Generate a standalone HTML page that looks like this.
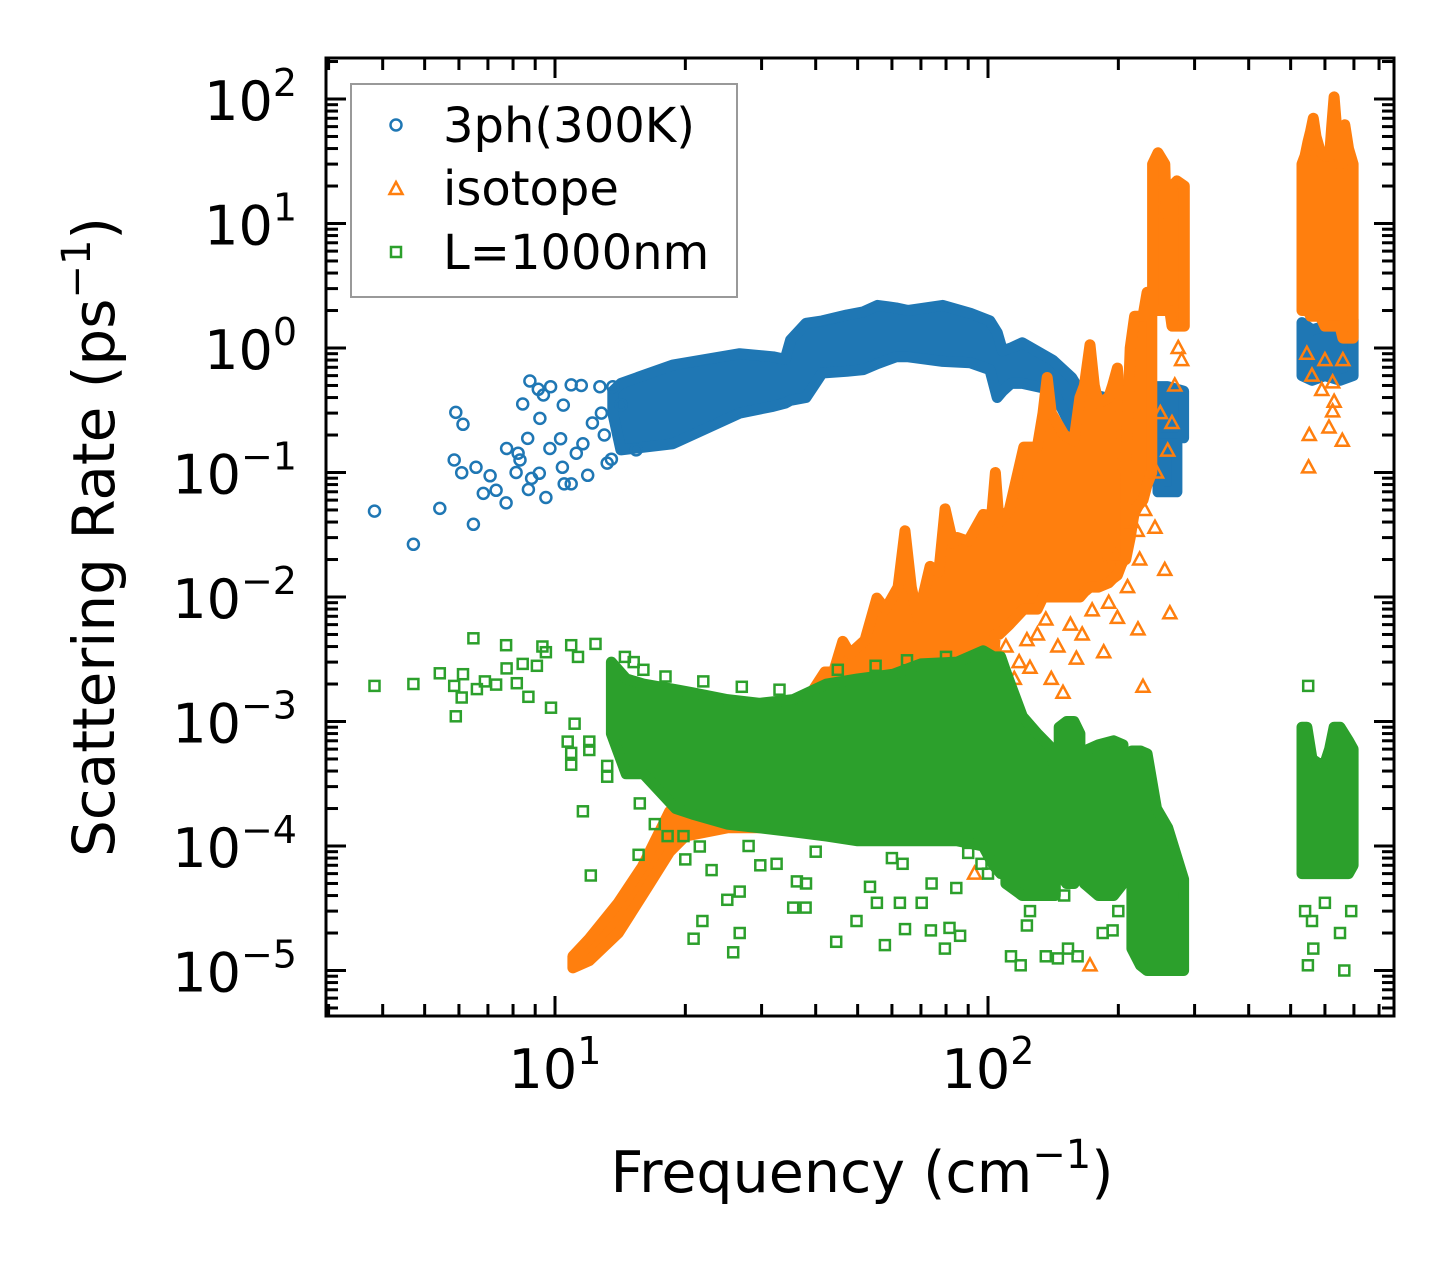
<!DOCTYPE html>
<html><head><meta charset="utf-8"><style>
html,body{margin:0;padding:0;background:#fff;}
svg{display:block;font-family:"DejaVu Sans","Liberation Sans",sans-serif;}
</style></head><body>
<svg id="chart" width="1455" height="1265" viewBox="0 0 1455 1265" xmlns="http://www.w3.org/2000/svg">
<defs><clipPath id="plotclip"><rect x="326" y="58" width="1068" height="958"/></clipPath></defs>
<rect x="0" y="0" width="1455" height="1265" fill="#fff"/>
<g id="series" clip-path="url(#plotclip)"></g>
<g id="axes"></g>
<g id="legend">
  <rect x="351" y="84" width="386" height="213" fill="#fff" stroke="#999" stroke-width="2"/>
  <g>
    <circle cx="396" cy="125" r="5.5" fill="none" stroke="#1f77b4" stroke-width="2.5"/>
    <text x="443" y="142" font-size="48" fill="#000">3ph(300K)</text>
  </g>
  <g>
    <polygon points="396,182 402.5,194 389.5,194" fill="none" stroke="#ff7f0e" stroke-width="2.5"/>
    <text x="443" y="205" font-size="48" fill="#000">isotope</text>
  </g>
  <g>
    <rect x="391" y="247" width="10" height="10" fill="none" stroke="#2ca02c" stroke-width="2.5"/>
    <text x="443" y="269" font-size="48" fill="#000">L=1000nm</text>
  </g>
</g>
<text x="862" y="1192" font-size="57" text-anchor="middle" fill="#000">Frequency (cm<tspan font-size="40" dy="-24">−1</tspan><tspan dy="24">)</tspan></text>
<text transform="translate(114,537) rotate(-90)" x="0" y="0" font-size="58" text-anchor="middle" fill="#000">Scattering Rate (ps<tspan font-size="40" dy="-24">−1</tspan><tspan dy="24">)</tspan></text>
</svg>
<script>
// ---- data (frequency cm^-1, rate ps^-1) ----
const blueSparseF = [3.83,4.71,5.42,5.90,6.13,5.85,6.09,6.48,6.57,6.83,7.08,7.31,7.71,7.73,8.22,8.30,8.13,8.42,8.75,9.23,8.65,8.83,8.68,9.53,9.20,9.15,9.77,9.40,10.4,10.5,10.9,10.9,11.5,11.9,9.73,10.3,10.45,11.2,11.6,12.7,13.6,13.2,13.5,15.4,12.2,12.8,13.0,14.2];
const blueSparseR = [0.049,0.0265,0.0515,0.304,0.244,0.126,0.0997,0.0384,0.110,0.068,0.094,0.072,0.057,0.156,0.143,0.126,0.10,0.355,0.543,0.272,0.188,0.0897,0.073,0.063,0.0986,0.466,0.489,0.419,0.110,0.081,0.081,0.505,0.50,0.095,0.156,0.187,0.348,0.143,0.17,0.489,0.489,0.119,0.128,0.152,0.25,0.3,0.2,0.35];
const blueBandF  = [13.6,14.2,18.7,26.7,31.9,34.0,35.0,38.0,41.4,47.2,51.5,55.6,61.3,65.4,78.6,91,101,105,108,113,120,141,156,163,176,186,205];
const blueBandHi = [0.45,0.52,0.73,0.9,0.85,0.81,1.16,1.58,1.65,1.84,1.95,2.2,2.1,2.0,2.2,1.9,1.65,1.33,0.95,1.0,1.1,0.8,0.58,0.45,0.42,0.4,0.35];
const blueBandLo = [0.3,0.152,0.17,0.30,0.34,0.36,0.38,0.40,0.63,0.65,0.67,0.75,0.85,0.85,0.78,0.76,0.67,0.4,0.45,0.52,0.52,0.46,0.23,0.22,0.25,0.2,0.16];
const blueB2F = [213,225,240], blueB2Hi = [0.23,0.2,0.2], blueB2Lo = [0.1,0.1,0.1];
const blueB3F = [243,260,283], blueB3Hi = [0.49,0.49,0.45], blueB3Lo = [0.19,0.19,0.19];
const blueB4F = [247,260,273], blueB4Hi = [0.17,0.17,0.17], blueB4Lo = [0.07,0.07,0.07];
const blueB5F = [531,560,600,650,697], blueB5Hi = [1.6,1.4,1.5,1.8,1.7], blueB5Lo = [0.6,0.55,0.6,0.55,0.6];

const orangeAF  = [11,12,14,15.9,18.4,20,25,30,38.2,42,44,46.2,48,52,55.4,58,62,64.3,66.5,68.9,73.5,77,79.6,83,85,90,97.5,102,104,106,112,121,130,134,137,140,150,158,163,167,172,176,180,190,194,199,203,206];
const orangeAHi = [1.3e-5,1.8e-5,3.5e-5,6.8e-5,1.9e-4,2.3e-4,3.5e-4,6e-4,1.5e-3,2.5e-3,2.5e-3,4.4e-3,3.5e-3,4.5e-3,9.8e-3,8e-3,1.2e-2,3.4e-2,1.2e-2,6.8e-3,1.76e-2,1.6e-2,5.1e-2,2.7e-2,3e-2,2.8e-2,4.6e-2,4.5e-2,0.1,0.04,0.05,0.16,0.16,0.3,0.58,0.3,0.2,0.18,0.4,0.5,1.06,0.5,0.36,0.4,0.5,0.69,0.3,0.07];
const orangeALo = [1.05e-5,1.2e-5,2e-5,4e-5,9e-5,1.2e-4,1.4e-4,1.4e-4,1.5e-4,1.5e-4,1.5e-4,1.5e-4,1.5e-4,1.5e-4,1.5e-4,1.5e-4,1.5e-4,1.5e-4,1.5e-4,1.5e-4,1.5e-4,1.5e-4,1.5e-4,1.5e-4,1.5e-4,1.5e-4,1.5e-4,2e-3,5e-3,5e-3,6e-3,8e-3,8e-3,1e-2,1e-2,1e-2,1e-2,1e-2,1e-2,1.1e-2,1.2e-2,1.2e-2,1.2e-2,1.3e-2,1.4e-2,1.5e-2,1.8e-2,2e-2];
const orangeBF = [208,213,218,228,233,239], orangeBHi = [0.1,1.0,1.8,1.8,2.8,2.8], orangeBLo = [0.02,0.03,0.05,0.06,0.08,0.1];
const orangeCF = [240,247,256,258,263,266,273,284], orangeCHi = [30,37,30,12,14,20,22,20], orangeCLo = [2,2,2,2,2,1.5,1.5,1.5];
const orangeDF  = [531,540,548,556,564,572,585,600,615,622,630,638,650,660,667,680,697];
const orangeDHi = [30,35,45,55,70,50,38,35,35,60,104,60,30,50,62,40,30];
const orangeDLo = [2,2,2,1.8,1.8,1.8,1.8,1.5,1.5,1.5,1.5,1.5,1.5,1.2,1.2,1.2,1.2];
const orangeSparseF = [552,613,658,550,625,590,625,630,560,600,660,545,221,243,256,224,174,185,197,263,228,160,149,125,185,222,199,136,123,174,172,68.6,93.1,250,270,280,260,230,215,245,275,266,110,118,130,145,155,165,190,210,115,140];
const orangeSparseR = [0.2,0.23,0.18,0.11,0.31,0.46,0.53,0.37,0.6,0.8,0.8,0.9,0.034,0.036,0.0165,0.02,0.018,0.018,0.021,7.4e-3,1.9e-3,3.2e-3,1.7e-3,2.7e-3,3.6e-3,5.5e-3,6.8e-3,6.6e-3,4.5e-3,7.8e-3,1.1e-5,1.6e-4,6e-5,0.3,0.5,0.8,0.15,0.05,0.04,0.1,1.0,0.25,4e-3,3e-3,5e-3,4e-3,6e-3,5e-3,9e-3,1.2e-2,2.2e-3,2.2e-3];

const greenAF  = [13.5,14.6,16,19,20.8,25,29.7,35.5,42.4,50,60.5,70,85,97.5,103,107,110];
const greenAHi = [3e-3,2.2e-3,2e-3,1.8e-3,1.7e-3,1.5e-3,1.4e-3,1.5e-3,2e-3,2.2e-3,2.4e-3,2.9e-3,3e-3,3.7e-3,3.3e-3,3.3e-3,2.5e-3];
const greenALo = [8e-4,3.8e-4,3.8e-4,2e-4,1.8e-4,1.5e-4,1.4e-4,1.3e-4,1.2e-4,1.1e-4,1.1e-4,1.1e-4,1.1e-4,1e-4,7e-5,6e-5,6e-5];
const greenBF = [110,120,130,139,143], greenBHi = [2.5e-3,1.1e-3,8e-4,6.3e-4,4e-4], greenBLo = [5e-5,4e-5,4e-5,4e-5,4e-5];
const greenCF = [146,152,158,163], greenCHi = [9e-4,1e-3,1e-3,8e-4], greenCLo = [6e-5,5e-5,5e-5,6e-5];
const greenDF = [167,180,195,205], greenDHi = [5.8e-4,6.5e-4,7e-4,6.5e-4], greenDLo = [5e-5,4e-5,4e-5,5e-5];
const greenEF = [215,225,233,245,260,283], greenEHi = [5.8e-4,5.8e-4,5.5e-4,2e-4,1.4e-4,5.4e-5], greenELo = [1.5e-5,1.1e-5,1e-5,1e-5,1e-5,1e-5];
const greenFF = [531,545,560,580,600,615,630,650,680,697], greenFHi = [9e-4,9e-4,5e-4,4.6e-4,4.6e-4,6e-4,9e-4,9e-4,7e-4,6e-4], greenFLo = [6e-5,6e-5,6e-5,6e-5,6e-5,6e-5,6e-5,6e-5,6e-5,7e-5];
const greenSparseF = [3.83,4.71,5.42,5.90,5.85,6.13,6.09,6.48,6.60,6.89,7.31,7.71,7.73,8.16,8.42,8.68,9.35,9.53,9.79,10.9,12.4,11.3,10.7,10.9,12.0,13.2,15.7,11.1,9.08,15.6,12.1,11.6,10.9,13.2,12.0,21.9,20.9,26.7,25.8,25.0,26.7,23.0,35.5,37.9,38,36.2,49.7,44.6,57.8,55.4,64.3,73.8,81.5,86.2,79.5,70.3,62.6,74.1,84.5,53.4,63.5,32.5,29.8,90.0,96.6,18.2,19.8,20.0,21.6,549,548,665,564,113,119,136,153,145,161,194,184,123,540,560,600,650,690,230,250,270,16,18,22,27,33,45,55,65,80,17,28,40,60,100,125,150,200,14.5,15.2,47,52,58];
const greenSparseR = [1.93e-3,2.0e-3,2.44e-3,1.1e-3,1.93e-3,2.4e-3,1.56e-3,4.66e-3,1.82e-3,2.1e-3,1.98e-3,4.1e-3,2.67e-3,2.03e-3,2.9e-3,1.58e-3,4e-3,3.6e-3,1.29e-3,4.1e-3,4.2e-3,3.3e-3,6.9e-4,4.5e-4,5.9e-4,3.6e-4,2.2e-4,9.6e-4,2.8e-3,8.5e-5,5.8e-5,1.9e-4,5.6e-4,4.4e-4,6.9e-4,2.5e-5,1.8e-5,2e-5,1.4e-5,3.7e-5,4.3e-5,6.4e-5,3.2e-5,3.2e-5,5e-5,5.2e-5,2.5e-5,1.7e-5,1.6e-5,3.5e-5,2.15e-5,2.1e-5,2.2e-5,1.9e-5,1.5e-5,3.5e-5,3.5e-5,5e-5,4.6e-5,4.7e-5,7.2e-5,7.2e-5,7e-5,8.8e-5,7.2e-5,1.2e-4,1.2e-4,7.8e-5,9.9e-5,1.93e-3,1.1e-5,1e-5,1.5e-5,1.3e-5,1.1e-5,1.3e-5,1.5e-5,1.25e-5,1.3e-5,2.1e-5,2e-5,2.3e-5,3e-5,2.5e-5,3.5e-5,2e-5,3e-5,2e-5,3e-5,4e-5,2.6e-3,2.3e-3,2.1e-3,1.9e-3,1.8e-3,2.6e-3,2.8e-3,3.1e-3,3.3e-3,1.5e-4,1e-4,9e-5,8e-5,6e-5,3e-5,4e-5,3e-5,3.3e-3,3e-3,1.3e-3,1.2e-3,1.3e-3];

const xMajorTicks = [10,100];
const xTickLabels = ["1","2"];
const yMajorTicks = [1e-5,1e-4,1e-3,1e-2,1e-1,1,10,100];
const yTickLabels = ["−5","−4","−3","−2","−1","0","1","2"];

// ---- scales ----
const L=326,R=1394,T=58,B=1016;
function X(f){return 555+(Math.log10(f)-1)*433;}
function Y(r){return 99+(2-Math.log10(r))*124.5;}
const NS="http://www.w3.org/2000/svg";
const gS=document.getElementById('series'), gA=document.getElementById('axes');
function mk(tag,attrs,parent){const e=document.createElementNS(NS,tag);for(const k in attrs)e.setAttribute(k,attrs[k]);parent.appendChild(e);return e;}

function band(F,Hi,Lo,color,name){
  const pts=[];
  for(let i=0;i<F.length;i++)pts.push(X(F[i]).toFixed(1)+','+Y(Hi[i]).toFixed(1));
  for(let i=F.length-1;i>=0;i--)pts.push(X(F[i]).toFixed(1)+','+Y(Lo[i]).toFixed(1));
  const p=mk('polygon',{points:pts.join(' '),fill:color,stroke:color,'stroke-width':11,'stroke-linejoin':'round'},gS);
  
  
}
function circles(F,Rr,color,name){
  for(let i=0;i<F.length;i++){
    const c=mk('circle',{cx:X(F[i]).toFixed(1),cy:Y(Rr[i]).toFixed(1),r:5.5,fill:'none',stroke:color,'stroke-width':2.5},gS);
    
    
  }
}
function squares(F,Rr,color,name){
  for(let i=0;i<F.length;i++){
    const s=mk('rect',{x:(X(F[i])-5).toFixed(1),y:(Y(Rr[i])-5).toFixed(1),width:10,height:10,fill:'none',stroke:color,'stroke-width':2.5},gS);
    
    
  }
}
function tris(F,Rr,color,name){
  for(let i=0;i<F.length;i++){
    const x=X(F[i]),y=Y(Rr[i]);
    const t=mk('polygon',{points:`${x},${y-7} ${x+6.5},${y+5} ${x-6.5},${y+5}`,fill:'none',stroke:color,'stroke-width':2.5},gS);
    
    
  }
}
const CB='#1f77b4',CO='#ff7f0e',CG='#2ca02c';
band(blueBandF,blueBandHi,blueBandLo,CB,'3ph-band');
band(blueB2F,blueB2Hi,blueB2Lo,CB,'3ph-band');
band(blueB3F,blueB3Hi,blueB3Lo,CB,'3ph-band');
band(blueB4F,blueB4Hi,blueB4Lo,CB,'3ph-band');
band(blueB5F,blueB5Hi,blueB5Lo,CB,'3ph-band');
circles(blueSparseF,blueSparseR,CB,'3ph-point');
band(orangeAF,orangeAHi,orangeALo,CO,'isotope-band');
band(orangeBF,orangeBHi,orangeBLo,CO,'isotope-band');
band(orangeCF,orangeCHi,orangeCLo,CO,'isotope-band');
band(orangeDF,orangeDHi,orangeDLo,CO,'isotope-band');
tris(orangeSparseF,orangeSparseR,CO,'isotope-point');
band(greenAF,greenAHi,greenALo,CG,'boundary-band');
band(greenBF,greenBHi,greenBLo,CG,'boundary-band');
band(greenCF,greenCHi,greenCLo,CG,'boundary-band');
band(greenDF,greenDHi,greenDLo,CG,'boundary-band');
band(greenEF,greenEHi,greenELo,CG,'boundary-band');
band(greenFF,greenFHi,greenFLo,CG,'boundary-band');
squares(greenSparseF,greenSparseR,CG,'boundary-point');

// ---- axes ----
const frame=mk('rect',{x:L,y:T,width:R-L,height:B-T,fill:'none',stroke:'#000','stroke-width':3},gA);


function tickLine(x1,y1,x2,y2,name){
  const l=mk('line',{x1:x1,y1:y1,x2:x2,y2:y2,stroke:'#000','stroke-width':3},gA);
  
  
}
for(let d=0;d<=2;d++){
  for(let m=1;m<=9;m++){
    const f=m*Math.pow(10,d);const x=X(f);
    if(x<L+1||x>R-1)continue;
    const len=(m===1)?20:12;
    tickLine(x,B,x,B-len,'x-tick');
    tickLine(x,T,x,T+len,'x-tick-top');
  }
}
for(let e=-6;e<=2;e++){
  for(let m=1;m<=9;m++){
    const r=m*Math.pow(10,e);const y=Y(r);
    if(y<T+1||y>B-1)continue;
    const len=(m===1)?20:12;
    tickLine(L,y,L+len,y,'y-tick');
    tickLine(R,y,R-len,y,'y-tick-right');
  }
}
for(let i=0;i<xMajorTicks.length;i++){
  const t=mk('text',{x:X(xMajorTicks[i]),y:1088,'font-size':54,'text-anchor':'middle',fill:'#000'},gA);
  
  
  t.appendChild(document.createTextNode('10'));
  const s=mk('tspan',{'font-size':38,dy:-24},t);s.textContent=xTickLabels[i];
}
for(let i=0;i<yMajorTicks.length;i++){
  const t=mk('text',{x:297,y:Y(yMajorTicks[i])+21,'font-size':54,'text-anchor':'end',fill:'#000'},gA);
  
  
  t.appendChild(document.createTextNode('10'));
  const s=mk('tspan',{'font-size':38,dy:-24},t);s.textContent=yTickLabels[i];
}
</script>
</body></html>
